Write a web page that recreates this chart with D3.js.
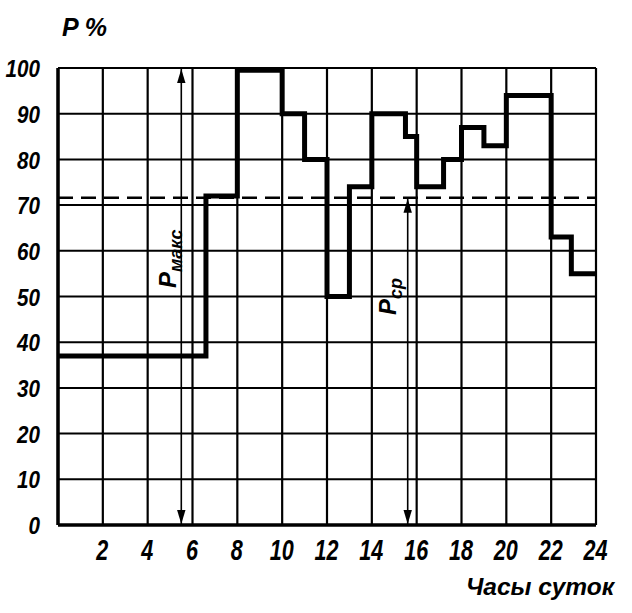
<!DOCTYPE html>
<html><head><meta charset="utf-8">
<script src="https://cdn.jsdelivr.net/npm/d3@7"></script>
<style>
body{margin:0;background:#fff;}
text{font-family:"Liberation Sans",Arial,sans-serif;font-style:italic;font-weight:bold;fill:#000;}
</style></head>
<body><svg id="c" width="632" height="613"></svg>
<script>
// step boundaries (hours) and load value (%) for each interval
const stepHours = [0, 6.6, 8, 10, 11, 12, 13, 14, 15.5, 16, 17.2, 18, 19, 20, 22, 22.9, 24];
const stepValues = [37, 72, 99.5, 90, 80, 50, 74, 90, 85, 74, 80, 87, 83, 94, 63, 55];
const avgLoad = 71.6;
const maxHour = 5.5;   // position of P_max arrow
const avgHour = 15.6;  // position of P_avg arrow
const xTicks = [2, 4, 6, 8, 10, 12, 14, 16, 18, 20, 22, 24];
const yTicks = [0, 10, 20, 30, 40, 50, 60, 70, 80, 90, 100];
const xGrid = [0, 2, 4, 6, 8, 10, 12, 14, 16, 18, 20, 22, 24];

const svg = d3.select("#c");
const L = 58, R = 596, T = 68, B = 525;
const x = d3.scaleLinear().domain([0, 24]).range([L, R]);
const y = d3.scaleLinear().domain([0, 100]).range([B, T]);

// grid
svg.append("g").selectAll("line").data(yTicks).join("line")
  .attr("x1", L).attr("x2", R).attr("y1", d => y(d)).attr("y2", d => y(d))
  .attr("stroke", "#000").attr("stroke-width", 2);
svg.append("g").selectAll("line").data(xGrid).join("line")
  .attr("y1", T).attr("y2", B).attr("x1", d => x(d)).attr("x2", d => x(d))
  .attr("stroke", "#000").attr("stroke-width", 2.2);

// axes (thicker)
svg.append("line").attr("x1", L).attr("x2", L).attr("y1", T).attr("y2", B).attr("stroke", "#000").attr("stroke-width", 3.5);
svg.append("line").attr("x1", L).attr("x2", R).attr("y1", B).attr("y2", B).attr("stroke", "#000").attr("stroke-width", 3.5);

// y tick labels
const yAxis = d3.axisLeft(y).tickValues(yTicks).tickSize(0).tickPadding(0);
const gy = svg.append("g").attr("transform", "translate(40,0)").call(yAxis);
gy.select(".domain").remove();
gy.selectAll("text").attr("font-size", 24).attr("dy", "0.36em").attr("x", 0)
  .attr("transform", "scale(0.86,1)").style("font-family", null);

// x tick labels
const xAxis = d3.axisBottom(x).tickValues(xTicks).tickSize(0).tickPadding(0);
const gx = svg.append("g").attr("transform", "translate(-1,537)").call(xAxis);
gx.select(".domain").remove();
gx.selectAll("text").attr("font-size", 30).attr("dy", "0.75em").attr("y", 0)
  .attr("transform", "scale(0.72,1)").style("font-family", null);

// average dashed line
svg.append("line").attr("x1", L).attr("x2", R).attr("y1", y(avgLoad)).attr("y2", y(avgLoad))
  .attr("stroke", "#000").attr("stroke-width", 2.6).attr("stroke-dasharray", "15,8");

// arrows
const defs = svg.append("defs");
defs.append("marker").attr("id", "ah").attr("viewBox", "0 0 10 10").attr("refX", 10).attr("refY", 5)
  .attr("markerWidth", 14).attr("markerHeight", 14).attr("markerUnits", "userSpaceOnUse").attr("orient", "auto-start-reverse")
  .append("path").attr("d", "M0,2 L10,5 L0,8 Z").attr("fill", "#000");
function arrow(h, v) {
  svg.append("line").attr("x1", x(h)).attr("x2", x(h)).attr("y1", y(0) - 1).attr("y2", y(v) + 1)
    .attr("stroke", "#000").attr("stroke-width", 1.6)
    .attr("marker-start", "url(#ah)").attr("marker-end", "url(#ah)");
}
arrow(maxHour, 100);
arrow(avgHour, avgLoad);

// step line
const pts = [];
stepValues.forEach((v, i) => { pts.push([stepHours[i], v]); pts.push([stepHours[i + 1], v]); });
svg.append("path").datum(pts)
  .attr("d", d3.line().x(d => x(d[0])).y(d => y(d[1])))
  .attr("fill", "none").attr("stroke", "#000").attr("stroke-width", 5).attr("stroke-linejoin", "miter");

// rotated labels
function plabel(cx, cy, sub) {
  const t = svg.append("text").attr("transform", `translate(${cx},${cy}) rotate(-90)`).attr("font-size", 24);
  t.append("tspan").text("P");
  t.append("tspan").attr("font-size", 18).attr("dy", 6).text(sub);
}
plabel(176, 288, "макс");
plabel(396, 315, "ср");

// titles
svg.append("text").attr("x", 62).attr("y", 36).attr("font-size", 25).text("P %");
svg.append("text").attr("x", 466).attr("y", 595).attr("font-size", 24.5).text("Часы суток");
</script></body></html>
